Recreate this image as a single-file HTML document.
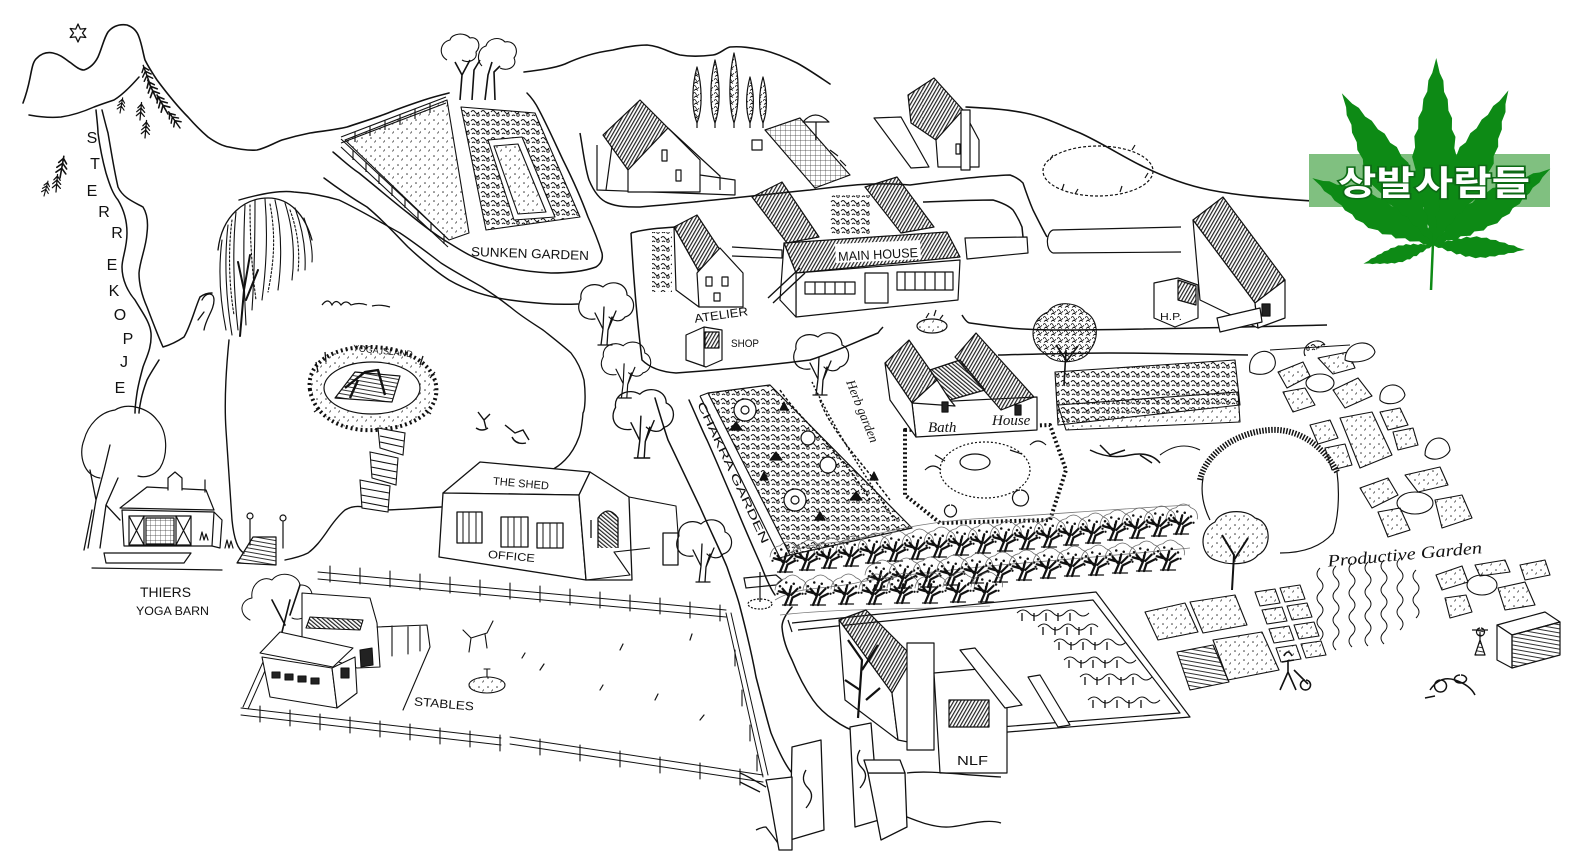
<!DOCTYPE html>
<html><head><meta charset="utf-8">
<style>
html,body{margin:0;padding:0;background:#fff;width:1583px;height:859px;overflow:hidden}
svg{display:block}
.t{font-family:"Liberation Sans",sans-serif;fill:#111;stroke:none}
.i{font-family:"Liberation Serif",serif;font-style:italic;fill:#111;stroke:none}
</style></head><body>
<svg width="1583" height="859" viewBox="0 0 1583 859" xmlns="http://www.w3.org/2000/svg">
<defs>
<pattern id="h" width="3" height="3" patternUnits="userSpaceOnUse" patternTransform="rotate(30)"><rect width="1.2" height="3" fill="#222"/></pattern>
<pattern id="hb" width="3" height="3" patternUnits="userSpaceOnUse" patternTransform="rotate(-50)"><rect width="1.2" height="3" fill="#222"/></pattern>
<pattern id="hs" width="4" height="4" patternUnits="userSpaceOnUse" patternTransform="rotate(10)"><rect width="4" height="1" fill="#333"/></pattern>
<pattern id="dt" width="9" height="9" patternUnits="userSpaceOnUse"><circle cx="2" cy="3" r="0.8" fill="#333"/><path d="M5.5 7.5l1.2-2" stroke="#333" stroke-width="0.8"/></pattern>
<pattern id="sc" width="10" height="9" patternUnits="userSpaceOnUse"><path d="M1 4q2-3 4 0t4 0M2 8q1.5-2 3 0" stroke="#111" stroke-width="1" fill="none"/><circle cx="8" cy="7" r="1.3" fill="none" stroke="#111" stroke-width="0.8"/></pattern>
<pattern id="sc2" width="7" height="7" patternUnits="userSpaceOnUse"><path d="M0 3q1.5-3 3 0t3 0M1 6.5l2-1.5 2 1.5" stroke="#111" stroke-width="0.8" fill="none"/></pattern>
<pattern id="grid" width="5" height="5" patternUnits="userSpaceOnUse"><path d="M0 0H5M0 0V5" stroke="#333" stroke-width="0.7" fill="none"/></pattern>
<g id="ot" fill="none" stroke="#111" stroke-linecap="round" transform="scale(1.25)">
<path d="M-12,-12 q1,-8 8,-9 q6,-6 12,0 q6,2 5,9" stroke-width="0.6" stroke="#666"/>
<path d="M-4,0 L-1,-7 L-6,-13 M-1,-7 L1,-15 M1,-8 L6,-13 M0,0 L2,-6 L8,-9 M-2,-9 L-9,-11" stroke-width="1.8"/>
<path d="M-6,0 L6,0" stroke-width="1"/>
<g fill="#111" stroke="none"><circle cx="-8" cy="-15" r="1"/><circle cx="-3" cy="-18" r="1"/><circle cx="3" cy="-17" r="1"/><circle cx="8" cy="-14" r="1"/><circle cx="-10" cy="-9" r="0.9"/><circle cx="10" cy="-9" r="0.9"/><circle cx="0" cy="-12" r="0.9"/><circle cx="-5" cy="-11" r="0.8"/></g>
</g>
<path id="pn" d="M0,0 L0,-22 M0,-20 L-4,-15 M0,-20 L4,-15 M0,-15 L-5,-10 M0,-15 L5,-10 M0,-10 L-5,-5 M0,-10 L5,-5" fill="none" stroke="#111" stroke-width="1.6" stroke-linecap="round"/>
<g id="ct" fill="none" stroke="#111" stroke-linecap="round" stroke-linejoin="round">
<path d="M-10,-26 C-24,-24 -30,-36 -24,-46 C-26,-58 -12,-64 -2,-58 C6,-66 22,-62 22,-50 C32,-46 30,-30 20,-28 C16,-22 8,-24 4,-28" stroke-width="1.2"/>
<path d="M-4,0 L-2,-16 L-10,-32 M-2,-16 L-1,-38 M2,0 L3,-15 L11,-34 M3,-15 L7,-28 M-7,0 L7,0" stroke-width="1.3"/>
</g>
<path id="lf" d="M0,0 L6,3 L10,2.5 L16,6 L20,5.5 L26,9 L30,8 L36,11 L40,10 L47,12 L52,10.5 L58,11 L62,9 L68,9 L72,7 L78,6.5 L82,4.5 L88,4 L92,2 L100,0 L92,-2 L88,-4 L82,-4.5 L78,-6.5 L72,-7 L68,-9 L62,-9 L58,-11 L52,-10.5 L47,-12 L40,-10 L36,-11 L30,-8 L26,-9 L20,-5.5 L16,-6 L10,-2.5 L6,-3 Z"/>
</defs>
<rect width="1583" height="859" fill="#fff"/>

<g fill="none" stroke="#111" stroke-width="1.4" stroke-linecap="round" stroke-linejoin="round">
<path d="M23,103 C26,95 28,88 30,78 C32,68 33,61 37,58 C42,53 48,52 53,53 C62,55 66,60 71,63 C76,67 80,70 84,70 C90,68 95,63 98,57 C102,48 104,38 108,32 C113,26 120,24 127,25 C133,27 137,31 139,37 C142,45 143,53 145,60 C149,68 153,74 157,80 C166,92 176,105 188,117 C195,125 201,131 208,137 C215,142 222,146 229,147 C238,149 248,151 257,150 C266,148 274,143 282,140 C292,137 300,135 310,133 C322,131 335,130 347,127 C362,122 375,118 388,113 C400,108 412,104 424,100 C433,97 441,95 449,93" stroke-width="1.6"/>
<path d="M524,72 C540,70 555,68 565,64 C580,57 598,52 613,50 C625,47 636,45 647,45 C660,46 670,53 680,55 C692,57 705,56 713,55 C720,54 725,48 730,47 C742,46 752,48 763,50 C775,53 787,58 797,63 C808,69 818,76 830,84" stroke-width="1.6"/>
<path d="M966,107 C985,108 1005,109 1025,113 C1045,117 1060,125 1080,133 C1100,142 1120,155 1140,165 C1160,175 1185,185 1210,190 C1240,196 1270,198 1312,201" stroke-width="1.6"/>
<path d="M29,115 C40,117 50,118 61,117 C75,115 85,111 94,107 C102,104 108,102 114,100 C122,95 132,85 139,77" stroke-width="1.5"/>
<polygon points="78,24 80.3,29.1 85.8,28.5 82.5,33 85.8,37.5 80.3,36.9 78,42 75.7,36.9 70.2,37.5 73.5,33 70.2,28.5 75.7,29.1" stroke-width="1.3"/>
<path d="M96,110 C97,120 98,128 98,133 C100,148 103,162 106,173 C110,186 113,194 118,200 C124,210 127,222 127,233 C127,248 122,258 122,267 C122,280 128,292 135,300 C142,312 150,322 151,333 C152,348 146,358 143,367 C140,378 138,386 137,393 C136,400 135,406 135,413" stroke-width="1.5"/>
<path d="M102,110 C104,118 106,126 108,133 C111,150 114,170 118,187 C123,198 134,202 143,207 C148,215 148,225 147,233 C146,248 140,260 139,273 C139,286 143,298 147,307 C152,320 158,336 163,347 C170,345 178,341 184,337 C191,325 195,308 200,297 C204,294 208,293 212,293" stroke-width="1.5"/>
<path d="M159,360 C154,368 150,374 147,380 C144,388 142,395 141,400 C140,405 139,410 139,413" stroke-width="1.5"/>
</g>
<g class="t" font-size="16" text-anchor="middle">
<text x="92" y="143">S</text><text x="95" y="169">T</text><text x="92" y="196">E</text><text x="104" y="217">R</text><text x="117" y="238">R</text><text x="112" y="270">E</text><text x="114" y="296">K</text><text x="120" y="320">O</text><text x="128" y="344">P</text><text x="124" y="367">J</text><text x="120" y="393">E</text>
</g>
<use href="#pn" transform="translate(157,100) rotate(-25)"/>
<use href="#pn" transform="translate(168,114) rotate(-30)"/>
<use href="#pn" transform="translate(180,128) rotate(-35) scale(0.9)"/>
<use href="#pn" transform="translate(150,84) rotate(-20) scale(0.9)"/>
<use href="#pn" transform="translate(120,113) rotate(10) scale(0.7)"/>
<use href="#pn" transform="translate(140,120) rotate(5) scale(0.8)"/>
<use href="#pn" transform="translate(145,138) rotate(5) scale(0.8)"/>
<use href="#pn" transform="translate(60,178) rotate(10)"/>
<use href="#pn" transform="translate(56,192) rotate(5) scale(0.8)"/>
<use href="#pn" transform="translate(44,196) rotate(15) scale(0.7)"/>

<g fill="none" stroke="#111" stroke-width="1.3" stroke-linecap="round" stroke-linejoin="round">
<path d="M218,250 C222,215 245,198 268,198 C290,198 305,215 312,240"/>
<path d="M222,240 C218,270 220,300 226,330 M228,225 C224,260 226,300 232,335 M236,212 C232,250 234,295 238,330 M245,205 C243,245 244,290 246,325 M255,200 C255,240 254,280 252,310 M265,199 C268,235 266,270 262,300 M275,200 C282,230 282,260 278,290 M285,203 C293,228 295,255 292,280 M295,208 C303,230 306,250 305,270 M304,218 C310,235 313,250 312,262" stroke-width="1.1"/>
<path d="M250,205 C250,240 252,270 256,300 M270,204 C276,236 274,262 268,292 M290,210 C298,232 300,252 298,272 M232,220 C228,250 229,285 234,315" stroke-width="1.1" stroke-dasharray="2 2"/>
<path d="M240,336 L244,290 L250,255 M244,290 L238,262 M246,300 L258,270" stroke-width="2"/>
<path d="M202,300 C206,292 214,292 214,300 C214,310 206,318 204,330 M204,312 L198,320" stroke-width="1.3"/>
<path d="M229,340 C226,370 224,400 226,430 C228,460 230,490 232,520 C234,540 238,550 244,553" stroke-width="1.4"/>
<path d="M239,200 C260,194 280,190 294,192 C310,193 325,196 339,200 C360,210 380,222 400,233 C415,243 428,253 441,263 C455,272 470,280 482,287 C493,294 504,302 514,310 C524,318 534,324 543,330 C553,338 562,345 571,353 C578,362 582,372 584,380 C586,395 585,410 583,413 C582,425 581,432 579,437 C575,448 570,455 565,460 C560,465 556,468 551,470" stroke-width="1.4"/>
<path d="M285,560 C295,558 302,556 308,553 C316,547 321,540 326,533 C332,524 338,516 345,510 C352,506 358,506 363,507 C370,508 376,509 381,510 C400,510 420,508 441,507" stroke-width="1.4"/>
<path d="M333,152 C345,162 350,167 359,173 C380,190 395,203 408,213 C425,227 437,236 449,243 C465,253 475,259 490,263 C510,269 530,272 551,273 C570,273 585,271 596,267 C602,263 603,258 602,253 C598,240 593,228 588,217 C580,195 572,178 563,160 C555,143 547,125 539,110 C535,102 531,97 527,93" stroke-width="1.5"/>
<path d="M324,178 C340,190 352,198 367,207 C385,222 396,235 408,247 C422,260 435,271 449,280 C468,291 488,297 510,300 C532,303 552,305 578,304" stroke-width="1.5"/>
</g>

<g fill="none" stroke="#111" stroke-width="1.1" stroke-linejoin="round">
<polygon points="345,140 447,100 469,233 449,240" fill="url(#dt)"/>
<path d="M341,137 L446,97 M341,143 L446,103 M341,139 L448,239 M341,147 L448,247" />
<path d="M355,132 v10 M370,126 v10 M385,120 v10 M400,115 v10 M415,109 v10 M430,103 v10 M353,150 v10 M366,162 v10 M379,174 v10 M392,186 v10 M405,198 v10 M418,210 v10 M431,222 v10 M444,234 v10"/>
<polygon points="461,107 535,113 580,217 486,230" fill="url(#sc)"/>
<polygon points="488,140 522,137 555,217 514,220" fill="#fff"/>
<polygon points="494,146 518,144 546,212 518,214" fill="url(#dt)"/>
<path d="M447,60 C438,55 440,42 450,40 C452,33 465,32 470,38 C478,36 482,46 476,52 C478,60 468,64 462,60"/>
<path d="M482,66 C476,60 478,48 486,46 C488,38 500,36 505,42 C514,40 520,50 514,58 C518,66 508,72 500,68"/>
<path d="M460,100 L462,75 L455,62 M462,75 L470,60 M472,100 L474,70 L480,60 M485,100 L488,75 L492,62 M495,100 L494,72 L500,66" stroke-width="1.6"/>
</g>
<text class="t" font-size="13" x="471" y="258" textLength="118" lengthAdjust="spacingAndGlyphs" transform="rotate(2 530 254)">SUNKEN GARDEN</text>

<path d="M322,305 q6,-8 10,0 q4,-7 9,0 q5,-6 10,0 q8,-3 16,0 M372,306 q8,-2 18,1" fill="none" stroke="#111" stroke-width="1.2"/>

<g fill="none" stroke="#111" stroke-width="1.2" stroke-linejoin="round">
<path d="M310,390 C306,365 330,348 365,347 C400,346 432,360 436,385 C440,410 415,428 375,430 C340,432 314,415 310,390 Z" fill="url(#dt)" stroke-width="4" stroke-dasharray="2 3"/>
<ellipse cx="372" cy="388" rx="48" ry="26" fill="#fff"/>
<polygon points="335,398 355,372 400,376 392,402" fill="url(#hs)"/>
<path d="M345,388 L365,372 L378,370 L385,395 M358,380 L350,398" stroke-width="2.4"/>
<path d="M318,372 l-2,-10 M326,362 l-1,-10 M420,365 l3,-9 M430,378 l5,-6 M320,408 l-6,4 M425,410 l6,4" stroke-width="1.3"/>
</g>
<text class="t" font-size="9" x="353" y="354" textLength="60" lengthAdjust="spacingAndGlyphs" transform="rotate(6 383 350)">YOGA ISLAND</text>
<g fill="#fff" stroke="#111" stroke-width="1.1">
<polygon points="378,428 405,433 403,455 380,448"/>
<polygon points="370,452 398,458 396,485 372,478"/>
<polygon points="360,480 390,486 388,512 362,508"/>
<path d="M380,436 l24,5 M380,442 l23,5 M371,460 l26,5 M371,467 l26,5 M372,474 l24,5 M361,488 l28,5 M361,495 l28,5 M362,502 l26,5" fill="none"/>
</g>
<path d="M478,412 l6,8 l6,-6 M484,420 l2,8 M476,428 q6,4 12,0 M505,425 l10,8 l8,-3 l6,10 M512,437 q4,8 14,6" fill="none" stroke="#111" stroke-width="1.4"/>

<g fill="none" stroke="#111" stroke-width="1.2" stroke-linejoin="round" stroke-linecap="round">
<path d="M100,478 C84,476 78,455 84,440 C88,425 100,412 115,410 C128,402 148,408 157,420 C168,432 168,455 160,468 C154,476 145,478 138,476"/>
<path d="M88,548 L96,500 L90,470 M96,500 L104,470 L110,445 M100,548 L106,505 L118,478 M106,505 L120,520 M84,550 L92,510" stroke-width="1.3"/>
<polygon points="120,508 147,487 206,490 214,510" fill="#fff"/>
<polygon points="122,510 214,512 212,546 124,546" fill="#fff"/>
<rect x="129" y="516" width="62" height="29" fill="#fff"/>
<path d="M129,516 l15,29 M144,516 l-15,29 M176,516 l15,29 M191,516 l-15,29 M144,516 v29 M176,516 v29"/>
<rect x="146" y="518" width="28" height="26" fill="url(#grid)"/>
<polygon points="104,553 191,553 184,563 106,563" fill="#fff"/>
<path d="M214,512 L222,520 L220,548 L212,546 M92,568 L222,570"/>
<path d="M168,490 v-12 l7,-6 l7,6 v12" fill="#fff"/>
<path d="M205,480 v12"/>
<path d="M200,540 l2,-8 l2,8 l2,-6 l2,6 M225,548 l2,-8 l2,8 l2,-7 l2,7"/>
<polygon points="237,563 253,537 276,537 276,565" fill="url(#hs)"/>
<path d="M250,545 V520 M283,548 V522"/>
<circle cx="250" cy="516" r="3"/><circle cx="283" cy="518" r="3"/>
</g>
<text class="t" font-size="14" x="140" y="597" textLength="51" lengthAdjust="spacingAndGlyphs">THIERS</text>
<text class="t" font-size="12" x="136" y="615" textLength="73" lengthAdjust="spacingAndGlyphs">YOGA BARN</text>

<g fill="#fff" stroke="#111" stroke-width="1.3" stroke-linejoin="round">
<polygon points="443,493 480,462 590,472 579,495"/>
<polygon points="443,493 579,495 586,580 439,557"/>
<polygon points="579,495 590,472 629,497 632,580 586,580"/>
<rect x="457" y="512" width="25" height="31"/><rect x="501" y="517" width="27" height="30"/><rect x="537" y="523" width="26" height="25"/>
<path d="M463,512 v31 M476,512 v31 M469,512 v31 M508,517 v30 M521,517 v30 M514,517 v30 M543,523 v25 M557,523 v25 M550,523 v25" fill="none" stroke-width="1"/>
<path d="M598,548 v-30 q10,-14 20,0 v30" fill="url(#hb)"/>
<path d="M591,520 v18" fill="none"/>
<path d="M629,497 L676,506 L678,533 M586,580 L630,575 L614,552 L650,548" fill="none" stroke-width="1.1"/>
<rect x="663" y="533" width="15" height="32"/>
</g>
<text class="t" font-size="11" x="493" y="487" textLength="56" lengthAdjust="spacingAndGlyphs" transform="rotate(5 520 483)">THE SHED</text>
<text class="t" font-size="11" x="488" y="560" textLength="47" lengthAdjust="spacingAndGlyphs" transform="rotate(5 512 556)">OFFICE</text>

<use href="#ct" transform="translate(605,345) scale(1)"/>
<use href="#ct" transform="translate(625,398) scale(0.9)"/>
<use href="#ct" transform="translate(642,458) scale(1.1)"/>
<use href="#ct" transform="translate(703,582) scale(1)"/>
<use href="#ct" transform="translate(820,395) scale(1)"/>

<g fill="none" stroke="#111" stroke-width="1.1" stroke-linejoin="round" stroke-linecap="round">
<path d="M318,572 L726,610 M318,579 L726,617 M726,613 L763,777 M731,613 L768,775 M241,708 L501,738 M241,715 L501,745 M510,737 L763,775 M510,744 L763,782 M243,707 L263,662 M248,709 L268,664" stroke-width="1"/>
<path d="M330,566 v16 M360,568 v16 M390,571 v16 M420,574 v16 M450,577 v16 M480,580 v16 M510,583 v16 M540,586 v16 M570,589 v16 M600,592 v16 M630,595 v16 M660,598 v16 M690,602 v16 M720,605 v16 M735,650 v16 M742,690 v16 M750,725 v16 M757,755 v16 M260,706 v16 M290,710 v16 M320,714 v16 M350,717 v16 M380,721 v16 M410,724 v16 M440,728 v16 M470,731 v16 M500,735 v16 M540,739 v16 M580,745 v16 M620,751 v16 M660,757 v16 M700,763 v16 M740,769 v16"/>
<path d="M250,620 C238,614 240,600 252,598 C250,585 262,575 272,580 C280,570 298,574 300,585 C312,584 316,598 308,605 C312,615 300,622 292,618" fill="#fff" stroke-width="1"/>
<path d="M302,593 L370,598 L377,623 L380,667 L357,668 L302,650 Z" fill="#fff"/>
<polygon points="310,617 363,620 360,630 306,628" fill="url(#hb)"/>
<path d="M280,640 L290,600 M290,615 L300,585 M285,625 L272,600" stroke-width="1.6"/>
<polygon points="260,653 280,632 353,648 333,667" fill="#fff"/>
<polygon points="262,657 332,668 337,708 270,697" fill="#fff"/>
<polygon points="332,668 355,657 357,693 337,708" fill="#fff"/>
<path d="M272,672 h8 v6 h-8z M285,674 h8 v6 h-8z M298,676 h8 v6 h-8z M311,678 h8 v6 h-8z M341,668 h8 v10 h-8z" fill="#222"/>
<polygon points="360,650 372,648 373,665 361,667" fill="#222"/>
<path d="M377,627 L427,625 L430,647 L403,710 M392,626 v30 M408,626 v28 M420,626 v25"/>
<ellipse cx="487" cy="685" rx="18" ry="8" fill="url(#dt)"/>
<path d="M487,677 v-8 M484,669 h6"/>
<path d="M463,630 l8,8 l16,-5 l6,-12 M471,638 l-2,14 M485,634 l2,14"/>
<path d="M540,670 l4,-6 M600,690 l3,-5 M620,650 l3,-6 M655,700 l3,-6 M700,720 l4,-5 M522,658 l3,-5 M690,640 l2,-6" stroke-width="1.2"/>
</g>
<text class="t" font-size="12" x="414" y="708" textLength="60" lengthAdjust="spacingAndGlyphs" transform="rotate(5 444 704)">STABLES</text>

<g fill="none" stroke="#111" stroke-width="1.5" stroke-linecap="round">
<path d="M655,398 C660,415 664,428 668,440 C680,465 692,490 700,507 C710,530 720,550 727,567 C733,585 738,598 740,607 C746,630 752,655 756,677 C762,700 767,720 771,733 C778,750 785,765 792,773"/>
<path d="M689,400 C698,420 703,432 707,440 C716,460 725,482 733,500 C742,522 752,545 760,563 C763,570 768,585 775,595"/>
<path d="M792,607 C785,615 782,622 782,627 C783,640 787,650 792,660 C798,675 806,690 813,700 C820,710 828,716 834,720 C842,726 850,730 860,733"/>
</g>
<g fill="none" stroke="#111" stroke-width="1.2">
<path d="M760,572 V602 M744,578 L776,575 L782,580 L776,585 L746,588 Z"/>
<ellipse cx="760" cy="604" rx="12" ry="5" stroke-dasharray="2 1.5"/>
</g>

<g stroke="#111" stroke-width="1.2" stroke-linejoin="round" fill="#fff">
<path d="M580,133 C583,150 585,168 589,180 C594,192 600,200 608,203 C618,207 628,207 640,207 C700,202 760,195 810,190 C850,185 875,182 910,185 C940,181 980,176 1010,175 C1016,177 1020,180 1023,183 C1027,195 1030,203 1033,210 C1038,220 1043,230 1047,237" fill="none" stroke-width="1.5"/>
<path d="M923,202 C950,201 975,200 993,200 C1003,203 1009,206 1013,210 C1017,216 1020,222 1022,227 L1023,237" fill="none" stroke-width="1.5"/>
<polygon points="965,238 1027,237 1028,253 967,259"/>
<path d="M1181,227 L1053,230 C1046,232 1045,250 1053,253 L1181,252"/>
<path d="M597,145 L597,190 L735,195 L735,180 L700,175"/>
<polygon points="603,135 640,100 668,128 628,170" fill="url(#h)"/>
<polygon points="628,170 668,128 700,160 700,192 628,192"/>
<path d="M668,128 L720,176 L720,190 M612,146 L606,190" fill="none"/>
<rect x="662" y="150" width="5" height="11"/><rect x="676" y="170" width="5" height="11"/>
<polygon points="765,130 800,118 850,175 815,188" fill="url(#grid)"/>
<path d="M803,122 q12,-14 26,0 z M816,122 v18 M752,140 h10 v10 h-10 z M830,150 l8,6 M840,160 l6,6" />
<polygon points="874,118 901,117 929,167 911,168"/>
<polygon points="908,95 934,78 963,110 936,140 911,123" fill="url(#h)"/>
<polygon points="936,140 963,110 979,140 979,167 938,167"/>
<rect x="961" y="110" width="9" height="60"/>
<rect x="956" y="144" width="4" height="10"/>
<ellipse cx="1098" cy="171" rx="55" ry="25" fill="none" stroke-dasharray="3 2"/>
<path d="M1050,160 l3,-5 M1062,190 l2,-6 M1075,194 l3,-5 M1120,192 l2,-6 M1145,178 l3,-5 M1132,150 l3,-5" fill="none"/>
<g fill="url(#sc2)">
<path d="M697,67 C692,85 691,108 697,123 C703,108 702,85 697,67 Z"/>
<path d="M715,60 C710,80 709,106 715,123 C721,106 720,80 715,60 Z"/>
<path d="M734,53 C729,75 728,104 734,123 C740,104 739,75 734,53 Z"/>
<path d="M750,77 C746,92 745,110 750,123 C755,110 754,92 750,77 Z"/>
<path d="M763,77 C759,92 758,110 763,123 C768,110 767,92 763,77 Z"/>
</g>
<path d="M697,123 v5 M715,123 v5 M734,123 v5 M750,123 v5 M763,123 v5" fill="none"/>
</g>

<g stroke="#111" stroke-width="1.2" stroke-linejoin="round" fill="#fff">
<path d="M631,233 C645,229 660,228 676,227 M631,233 C633,270 637,320 642,360 C650,368 662,372 676,373 C720,370 770,365 810,360 C840,350 860,340 878,333 C880,330 882,328 883,327" fill="none" stroke-width="1.5"/>
<path d="M962,315 C965,320 968,323 970,323 C990,326 1000,327 1010,328 C1030,330 1045,330 1060,330 C1120,330 1200,328 1327,325" fill="none" stroke-width="1.5"/>
<path d="M998,355 C1040,354 1080,353 1109,353 C1150,353 1200,354 1248,355" fill="none" stroke-width="1.5"/>
<polygon points="752,197 782,182 819,237 787,243" fill="url(#h)"/>
<polygon points="865,187 897,177 934,227 901,233" fill="url(#h)"/>
<rect x="830" y="195" width="40" height="40" fill="url(#sc)" stroke="none"/>
<polygon points="784,243 947,232 960,257 796,273" fill="url(#h)"/>
<polygon points="835,244 920,240 921,259 836,263" stroke="none"/>
<polygon points="796,273 960,260 958,300 890,307 796,317"/>
<polygon points="784,243 796,273 796,317 780,300"/>
<rect x="865" y="273" width="23" height="30"/>
<path d="M897,272 h56 v18 h-56 z M905,272 v18 M915,272 v18 M925,272 v18 M935,272 v18 M945,272 v18 M805,282 h50 v12 h-50 z M815,282 v12 M825,282 v12 M835,282 v12 M845,282 v12" fill="none"/>
<path d="M773,303 L805,273 M768,298 L800,268" fill="none" stroke-width="1.4"/>
<path d="M732,247 L782,250 L782,258 L732,256" />
<polygon points="674,227 698,270 699,307 676,290"/>
<polygon points="674,227 697,215 722,253 698,270" fill="url(#h)"/>
<polygon points="697,273 720,248 743,273 743,307 699,307"/>
<rect x="706" y="277" width="6" height="9"/><rect x="722" y="277" width="6" height="9"/><rect x="714" y="293" width="6" height="8"/>
<rect x="652" y="232" width="20" height="60" fill="url(#sc)" stroke="none"/>
<polygon points="686,335 704,327 722,330 722,360 706,367 686,360"/>
<rect x="705" y="332" width="14" height="16" fill="url(#h)"/>
<path d="M704,327 v40" fill="none"/>
<ellipse cx="932" cy="326" rx="15" ry="7" fill="url(#dt)"/>
<path d="M926,318 l3,-5 M934,316 l2,-6 M940,319 l3,-4" fill="none"/>
<polygon points="1193,220 1223,197 1285,280 1255,303" fill="url(#h)"/>
<polygon points="1193,220 1255,303 1258,328 1200,300"/>
<polygon points="1255,303 1285,280 1285,318 1258,328"/>
<rect x="1262" y="304" width="8" height="12" fill="#222"/>
<polygon points="1217,318 1260,308 1262,322 1220,332"/>
<polygon points="1154,283 1178,278 1198,285 1198,318 1175,327 1154,318"/>
<polygon points="1178,280 1196,286 1196,305 1178,300" fill="url(#h)"/>
</g>
<text class="t" font-size="13" x="838" y="259" textLength="80" lengthAdjust="spacingAndGlyphs" transform="rotate(-3 878 254)">MAIN HOUSE</text>
<text class="t" font-size="12" x="694" y="319" textLength="54" lengthAdjust="spacingAndGlyphs" transform="rotate(-8 721 314)">ATELIER</text>
<text class="t" font-size="11" x="731" y="347" textLength="28" lengthAdjust="spacingAndGlyphs">SHOP</text>
<text class="t" font-size="10" x="1160" y="320" textLength="22" lengthAdjust="spacingAndGlyphs">H.P.</text>

<g stroke="#111" stroke-width="1.2" stroke-linejoin="round">
<polygon points="708,393 770,385 912,528 790,555" fill="url(#sc)"/>
<path d="M700,396 L708,393 M700,396 L780,558 L790,555" fill="none"/>
<circle cx="745" cy="410" r="11" fill="#fff"/><circle cx="745" cy="410" r="4" fill="none"/>
<circle cx="795" cy="500" r="11" fill="#fff"/><circle cx="795" cy="500" r="4" fill="none"/>
<circle cx="828" cy="465" r="8" fill="#fff"/>
<circle cx="808" cy="438" r="7" fill="#fff"/>
<path d="M730,430 l6,-8 l6,8 z M770,460 l6,-8 l6,8 z M850,500 l6,-8 l6,8 z M760,480 l4,-8 l4,8 z M815,520 l5,-8 l5,8 z M870,480 l4,-8 l4,8 z M780,410 l4,-8 l4,8 z" fill="#111"/>
<path d="M780,390 C800,420 840,450 870,500 M820,400 C830,430 860,460 890,500" fill="none" stroke-width="1.5" stroke-dasharray="3 2"/>
</g>
<text class="t" font-size="11" x="697" y="404" textLength="155" lengthAdjust="spacingAndGlyphs" transform="rotate(65 697 404)">CHAKRA GARDEN</text>
<text class="i" font-size="13" x="846" y="382" transform="rotate(68 846 382)">Herb garden</text>
<path d="M812,382 C830,420 860,470 895,520" fill="none" stroke="#111" stroke-width="1.5" stroke-dasharray="2 2"/>

<g stroke="#111" stroke-width="1.2" stroke-linejoin="round" fill="#fff">
<polygon points="905,430 1050,425 1066,470 1050,520 940,523 905,495" stroke-width="4" stroke-dasharray="2 2.5"/>
<ellipse cx="985" cy="470" rx="45" ry="28" stroke-dasharray="2 2"/>
<ellipse cx="975" cy="462" rx="15" ry="8" fill="none"/>
<path d="M935,455 l10,6 M1010,450 l12,4 M1020,490 a8,8 0 1,0 1,0 M925,470 q8,-8 16,0 M1030,445 q8,-8 16,0 M950,505 a6,6 0 1,0 1,0" fill="none"/>
<polygon points="912,403 1037,397 1037,430 916,437"/>
<polygon points="885,363 909,340 937,380 912,403" fill="url(#h)"/>
<polygon points="955,357 976,333 1034,397 1001,410" fill="url(#h)"/>
<polygon points="930,370 960,360 985,390 950,400" fill="url(#hb)"/>
<polygon points="912,403 937,380 950,400 955,406" />
<rect x="942" y="402" width="6" height="10" fill="#222"/><rect x="1015" y="405" width="6" height="10" fill="#222"/>
<path d="M885,363 L912,403 L916,437 L890,400 Z"/>
</g>
<text class="i" font-size="15" x="928" y="432">Bath</text>
<text class="i" font-size="15" x="992" y="425">House</text>

<g stroke="#111" stroke-width="1.1" stroke-linejoin="round">
<polygon points="1055,372 1235,360 1240,405 1058,425" fill="url(#sc)"/>
<polygon points="1058,405 1238,392 1240,422 1066,430" fill="url(#dt)"/>
<path d="M1040,350 C1028,338 1032,318 1048,312 C1055,300 1078,302 1085,312 C1098,318 1100,338 1090,350 C1085,362 1062,365 1050,358 Z" fill="url(#sc2)"/>
<path d="M1064,385 L1066,350 M1066,360 L1056,345 M1066,362 L1078,346" fill="none" stroke-width="1.6"/>
<path d="M1090,450 q20,10 40,5 q20,-4 30,8 M1100,445 l10,10 l15,-5 M1140,455 l12,8" fill="none" stroke-width="1.5"/>
<path d="M1160,455 q20,-15 40,-5" fill="none"/>
</g>

<g stroke="#111" stroke-width="1.2" fill="none" stroke-linejoin="round">
<path d="M1200,480 C1205,455 1235,432 1270,430 C1300,428 1325,448 1337,472" stroke-width="6" stroke-dasharray="1.5 1.5"/>
<path d="M1337,472 C1340,495 1338,520 1333,533 C1320,548 1300,553 1280,553"/>
<path d="M1203,478 C1200,495 1205,510 1210,520"/>
<path d="M1215,560 C1200,555 1198,530 1215,522 C1220,510 1245,508 1255,518 C1272,522 1272,548 1258,555 C1250,565 1230,566 1215,560 Z" fill="url(#dt)"/>
<path d="M1232,590 L1234,555 L1222,535 M1234,560 L1248,538" stroke-width="2"/>
</g>

<g stroke="#111" stroke-width="1.1" stroke-linejoin="round" fill="url(#dt)">
<ellipse cx="1320" cy="383" rx="14" ry="9" fill="#fff"/>
<polygon points="1278,372 1303,362 1310,376 1287,388"/>
<polygon points="1318,358 1348,352 1355,368 1333,374"/>
<polygon points="1283,392 1305,388 1315,405 1293,412"/>
<polygon points="1333,390 1358,378 1372,396 1345,408"/>
<polygon points="1310,425 1330,420 1338,438 1318,444"/>
<polygon points="1325,448 1345,444 1352,465 1332,470"/>
<polygon points="1340,418 1372,412 1392,455 1360,468"/>
<polygon points="1380,412 1400,408 1408,425 1388,430"/>
<polygon points="1393,432 1413,428 1418,445 1398,450"/>
<ellipse cx="1415" cy="503" rx="18" ry="11" fill="#fff"/>
<polygon points="1360,488 1388,478 1398,495 1372,508"/>
<polygon points="1405,475 1440,467 1448,485 1418,492"/>
<polygon points="1378,512 1400,508 1410,530 1388,537"/>
<polygon points="1435,500 1462,495 1472,518 1442,528"/>
<path d="M1250,372 C1246,350 1272,345 1275,360 C1278,372 1262,378 1250,372 Z" fill="#fff"/>
<path d="M1345,360 C1345,340 1372,338 1375,352 C1372,362 1352,364 1345,360 Z" fill="#fff"/>
<path d="M1380,400 C1378,382 1402,380 1405,395 C1402,405 1385,406 1380,400 Z" fill="#fff"/>
<path d="M1425,455 C1425,435 1448,432 1450,450 C1446,460 1430,462 1425,455 Z" fill="#fff"/>
<path d="M1305,356 C1300,345 1318,335 1325,345" fill="url(#sc)"/>
<path d="M1270,350 L1350,345" fill="none"/>
</g>
<text class="i" font-size="17" x="1327" y="560" textLength="155" lengthAdjust="spacingAndGlyphs" transform="rotate(-5 1404 552)">Productive Garden</text>

<g fill="none" stroke="#777" stroke-width="0.8">
<path d="M780,560 C800,540 840,545 860,538 C900,528 940,520 990,518 C1040,515 1100,510 1190,505"/>
<path d="M775,600 C800,585 830,590 860,582 C900,575 950,570 1000,565 C1060,560 1120,555 1190,548"/>
<path d="M780,615 C840,608 900,610 990,606"/>
</g>
<g>
<use href="#ot" x="785" y="572"/><use href="#ot" x="807" y="570"/><use href="#ot" x="829" y="568"/><use href="#ot" x="851" y="566"/><use href="#ot" x="873" y="563"/><use href="#ot" x="895" y="561"/><use href="#ot" x="917" y="559"/><use href="#ot" x="939" y="557"/><use href="#ot" x="961" y="555"/><use href="#ot" x="983" y="553"/><use href="#ot" x="1005" y="551"/><use href="#ot" x="1027" y="549"/><use href="#ot" x="1049" y="547"/><use href="#ot" x="1071" y="545"/><use href="#ot" x="1093" y="543"/><use href="#ot" x="1115" y="540"/><use href="#ot" x="1137" y="538"/><use href="#ot" x="1159" y="536"/><use href="#ot" x="1181" y="534"/>
<use href="#ot" x="880" y="590"/><use href="#ot" x="904" y="588"/><use href="#ot" x="928" y="587"/><use href="#ot" x="952" y="585"/><use href="#ot" x="976" y="583"/><use href="#ot" x="1000" y="582"/><use href="#ot" x="1024" y="580"/><use href="#ot" x="1048" y="578"/><use href="#ot" x="1072" y="576"/><use href="#ot" x="1096" y="575"/><use href="#ot" x="1120" y="573"/><use href="#ot" x="1144" y="571"/><use href="#ot" x="1168" y="570"/>
<use href="#ot" x="790" y="605"/><use href="#ot" x="818" y="605"/><use href="#ot" x="846" y="604"/><use href="#ot" x="874" y="604"/><use href="#ot" x="902" y="603"/><use href="#ot" x="930" y="603"/><use href="#ot" x="958" y="602"/><use href="#ot" x="986" y="602"/>
</g>

<g stroke="#111" stroke-width="1.2" stroke-linejoin="round" fill="#fff">
<path d="M792,623 L1096,592 L1190,717 L996,733 M798,630 L1093,600 L1180,713 L1000,727" fill="none"/>
<path d="M788,620 L792,632" fill="none"/>
<polygon points="839,620 866,610 913,657 892,693" fill="url(#h)"/>
<polygon points="839,620 892,693 898,740 845,700"/>
<polygon points="892,693 913,657 913,743 898,740"/>
<path d="M858,718 L862,660 L848,640 M862,670 L878,645 M860,690 L845,680 M866,700 L880,688" fill="none" stroke-width="2.2"/>
<rect x="907" y="643" width="27" height="107"/>
<polygon points="934,673 990,668 1007,690 1007,773 940,773"/>
<rect x="949" y="700" width="40" height="27" fill="url(#h)"/>
<polygon points="960,650 975,648 1022,705 1005,708" />
<polygon points="1028,677 1040,675 1070,725 1058,727" />
<g fill="none" stroke-width="1">
<path d="M1017,613 q6,-6 12,0 t12,0 t12,0 t12,0 t12,0 t12,0 M1038,627 q6,-6 12,0 t12,0 t12,0 t12,0 t12,0 M1054,642 q6,-6 12,0 t12,0 t12,0 t12,0 t12,0 t12,0 M1064,660 q6,-6 12,0 t12,0 t12,0 t12,0 t12,0 t12,0 M1080,677 q6,-6 12,0 t12,0 t12,0 t12,0 t12,0 t12,0 M1088,700 q6,-6 12,0 t12,0 t12,0 t12,0 t12,0 t12,0"/>
<path d="M1022,613 v8 M1034,613 v8 M1046,613 v8 M1058,613 v8 M1070,613 v8 M1043,627 v8 M1055,627 v8 M1067,627 v8 M1079,627 v8 M1091,627 v8 M1059,642 v8 M1071,642 v8 M1083,642 v8 M1095,642 v8 M1107,642 v8 M1069,660 v8 M1081,660 v8 M1093,660 v8 M1105,660 v8 M1117,660 v8 M1085,677 v8 M1097,677 v8 M1109,677 v8 M1121,677 v8 M1133,677 v8 M1093,700 v8 M1105,700 v8 M1117,700 v8 M1129,700 v8 M1141,700 v8" stroke-width="1.3"/>
</g>
</g>
<text class="t" font-size="13" x="957" y="765" textLength="31" lengthAdjust="spacingAndGlyphs">NLF</text>

<g stroke="#111" stroke-width="1.1" stroke-linejoin="round" fill="url(#dt)">
<polygon points="1145,612 1185,603 1198,632 1158,640"/>
<polygon points="1190,602 1235,595 1247,625 1203,633"/>
<polygon points="1177,652 1213,645 1229,682 1190,690" fill="url(#hs)"/>
<polygon points="1213,640 1262,632 1279,670 1228,680"/>
<polygon points="1255,592 1275,589 1280,603 1260,606"/><polygon points="1280,588 1300,585 1305,599 1285,602"/>
<polygon points="1262,610 1282,607 1287,621 1267,624"/><polygon points="1287,606 1307,603 1312,617 1292,620"/>
<polygon points="1269,629 1289,626 1294,640 1274,643"/><polygon points="1294,625 1314,622 1319,636 1299,639"/>
<polygon points="1276,648 1296,645 1301,659 1281,662"/><polygon points="1301,644 1321,641 1326,655 1306,658"/>
<ellipse cx="1482" cy="585" rx="15" ry="10" fill="#fff"/>
<polygon points="1436,575 1462,566 1468,582 1442,590"/>
<polygon points="1475,565 1505,560 1510,572 1480,576"/>
<polygon points="1445,598 1466,595 1472,612 1450,618"/>
<polygon points="1498,588 1525,582 1535,605 1505,610"/>
<polygon points="1520,565 1545,560 1550,575 1525,580"/>
</g>
<g fill="none" stroke="#111" stroke-width="1">
<path d="M1320,568 q-6,6 0,12 t0,12 t0,12 t0,12 t0,12 t0,12 M1336,566 q-6,6 0,12 t0,12 t0,12 t0,12 t0,12 t0,12 t0,12 M1352,563 q-6,6 0,12 t0,12 t0,12 t0,12 t0,12 t0,12 t0,12 M1368,562 q-6,6 0,12 t0,12 t0,12 t0,12 t0,12 t0,12 t0,12 M1384,560 q-6,6 0,12 t0,12 t0,12 t0,12 t0,12 t0,12 t0,12 M1400,558 q-6,6 0,12 t0,12 t0,12 t0,12 t0,12 t0,12 M1416,570 q-6,6 0,12 t0,12 t0,12 t0,12"/>
</g>
<g stroke="#111" stroke-width="1.2" stroke-linejoin="round">
<polygon points="1497,625 1545,612 1560,622 1512,635" fill="#fff"/>
<polygon points="1497,625 1512,635 1512,668 1497,660" fill="#fff"/>
<polygon points="1512,635 1560,622 1560,655 1512,668" fill="url(#hs)"/>
<path d="M1280,690 l8,-18 l8,18 M1288,672 v-12 M1282,662 l12,-2 M1284,656 q4,-8 8,0 M1294,670 l14,14 M1305,680 a5,5 0 1,0 1,0" fill="none" stroke-width="1.6"/>
<path d="M1475,655 l5,-15 l5,15 z M1480,640 v-8 M1472,630 h16 M1480,628 a4,4 0 1,0 1,0" fill="url(#hs)"/>
<path d="M1430,690 q10,-15 25,-10 q15,5 20,15 M1440,680 a6,6 0 1,0 1,0 M1460,675 a6,4 0 1,0 1,0 M1425,698 l10,-2" fill="none" stroke-width="1.5"/>
</g>

<g stroke="#111" stroke-width="1.3" stroke-linejoin="round" fill="#fff">
<path d="M740,773 C748,776 757,782 766,787 M740,782 L760,792 M907,773 C930,770 960,775 1001,777 M897,813 C915,820 932,828 949,827 C965,826 985,818 1001,823 M756,830 C760,828 764,827 766,827 C772,835 778,842 782,850" fill="none"/>
<polygon points="792,747 821,740 824,830 790,840"/>
<path d="M806,770 q-6,10 2,18 q8,8 -2,20" fill="none"/>
<polygon points="766,780 792,777 792,850 779,850 769,793"/>
<polygon points="850,727 871,723 879,820 855,827"/>
<path d="M860,750 q-6,10 2,18 q8,8 -2,20" fill="none"/>
<polygon points="868,773 905,773 907,827 881,840"/>
<path d="M864,760 L868,773 L905,773 L900,760 Z" fill="#fff"/>
</g>

<rect x="1309" y="154" width="241" height="53" fill="#80c080"/>
<g fill="#0d8a15">
<use href="#lf" transform="translate(1433,245) rotate(-89) scale(1.87)"/>
<use href="#lf" transform="translate(1433,245) rotate(-121) scale(1.77)"/>
<use href="#lf" transform="translate(1433,245) rotate(-64) scale(1.72)"/>
<use href="#lf" transform="translate(1433,245) rotate(-151) scale(1.38)"/>
<use href="#lf" transform="translate(1433,245) rotate(-33) scale(1.40)"/>
<use href="#lf" transform="translate(1433,245) rotate(165) scale(0.72)"/>
<use href="#lf" transform="translate(1433,245) rotate(3) scale(0.92)"/>
</g>
<path d="M1433,243 L1431,290" stroke="#0d8a15" stroke-width="2.5" fill="none"/>
<text x="1338" y="195" font-size="34" font-weight="bold" textLength="192" lengthAdjust="spacingAndGlyphs" style="font-family:'Liberation Sans','Noto Sans CJK KR','NanumGothic',sans-serif;fill:#fff;stroke:#0d6a15;stroke-width:3;paint-order:stroke">상발사람들</text>
</svg>
</body></html>
